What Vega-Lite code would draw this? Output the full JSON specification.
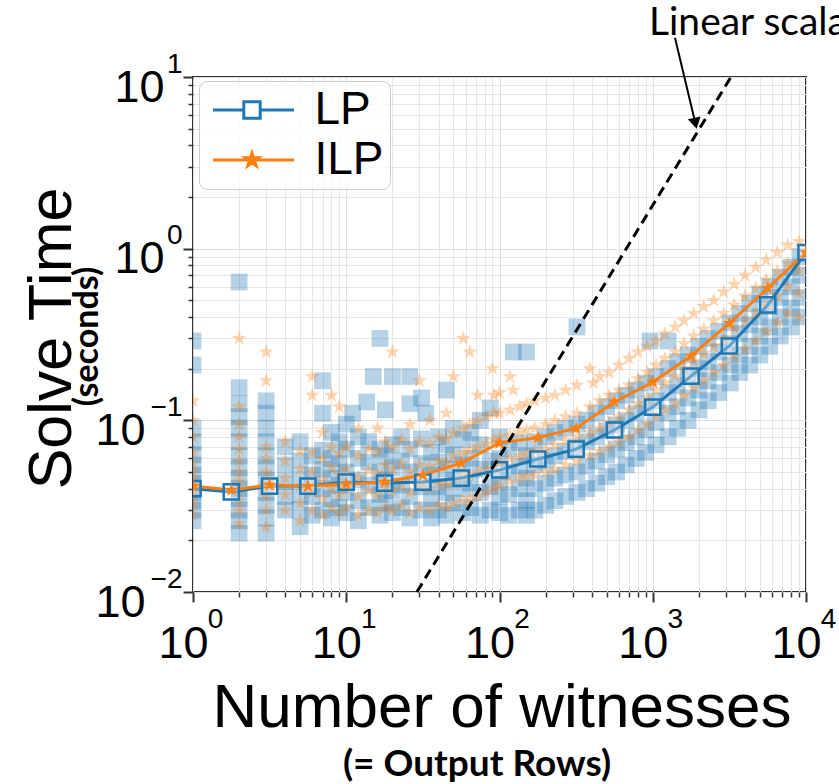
{
  "$schema": "https://vega.github.io/schema/vega-lite/v6.json",
  "width": 613,
  "height": 515,
  "autosize": {"type": "none"},
  "padding": {"left": 193, "top": 77, "right": 33, "bottom": 192},
  "background": "white",
  "config": {
    "view": {"stroke": "#333333", "strokeWidth": 2},
    "axis": {
      "labelFont": "Liberation Sans",
      "titleFont": "Liberation Sans",
      "labelColor": "#000000",
      "titleColor": "#000000",
      "tickColor": "#333333",
      "domain": false,
      "gridColor": "#e6e6e6",
      "gridWidth": 1,
      "labelFlush": false,
      "labelOverlap": false,
      "labelBound": false
    }
  },
  "datasets": {
    "lines": [
      {"s": "LP", "x": 1, "y": 0.040}, {"s": "LP", "x": 1.778, "y": 0.0383}, {"s": "LP", "x": 3.162, "y": 0.0414}, {"s": "LP", "x": 5.623, "y": 0.0414},
      {"s": "LP", "x": 10, "y": 0.0437}, {"s": "LP", "x": 17.78, "y": 0.0431}, {"s": "LP", "x": 31.62, "y": 0.0437}, {"s": "LP", "x": 56.23, "y": 0.0461},
      {"s": "LP", "x": 100, "y": 0.0514}, {"s": "LP", "x": 177.8, "y": 0.0595}, {"s": "LP", "x": 316.2, "y": 0.068}, {"s": "LP", "x": 562.3, "y": 0.0878},
      {"s": "LP", "x": 1000, "y": 0.1195}, {"s": "LP", "x": 1778, "y": 0.181}, {"s": "LP", "x": 3162, "y": 0.271}, {"s": "LP", "x": 5623, "y": 0.47},
      {"s": "LP", "x": 10000, "y": 0.95},
      {"s": "ILP", "x": 1, "y": 0.0414}, {"s": "ILP", "x": 1.778, "y": 0.0393}, {"s": "ILP", "x": 3.162, "y": 0.042}, {"s": "ILP", "x": 5.623, "y": 0.0414},
      {"s": "ILP", "x": 10, "y": 0.0426}, {"s": "ILP", "x": 17.78, "y": 0.0437}, {"s": "ILP", "x": 31.62, "y": 0.048}, {"s": "ILP", "x": 56.23, "y": 0.0564},
      {"s": "ILP", "x": 100, "y": 0.0739}, {"s": "ILP", "x": 177.8, "y": 0.0792}, {"s": "ILP", "x": 316.2, "y": 0.090}, {"s": "ILP", "x": 562.3, "y": 0.128},
      {"s": "ILP", "x": 1000, "y": 0.167}, {"s": "ILP", "x": 1778, "y": 0.237}, {"s": "ILP", "x": 3162, "y": 0.368}, {"s": "ILP", "x": 5623, "y": 0.589},
      {"s": "ILP", "x": 10000, "y": 0.95}
    ],
    "scatter": [
      {"s":"LP","x":1,"y":0.026},{"s":"LP","x":1,"y":0.03},{"s":"LP","x":1,"y":0.034},{"s":"LP","x":1,"y":0.038},{"s":"LP","x":1,"y":0.043},{"s":"LP","x":1,"y":0.048},{"s":"LP","x":1,"y":0.055},{"s":"LP","x":1,"y":0.063},{"s":"LP","x":1,"y":0.075},{"s":"LP","x":1,"y":0.09},{"s":"LP","x":1,"y":0.21},{"s":"LP","x":1,"y":0.29},
      {"s":"LP","x":2,"y":0.022},{"s":"LP","x":2,"y":0.026},{"s":"LP","x":2,"y":0.03},{"s":"LP","x":2,"y":0.035},{"s":"LP","x":2,"y":0.04},{"s":"LP","x":2,"y":0.046},{"s":"LP","x":2,"y":0.053},{"s":"LP","x":2,"y":0.062},{"s":"LP","x":2,"y":0.075},{"s":"LP","x":2,"y":0.09},{"s":"LP","x":2,"y":0.105},{"s":"LP","x":2,"y":0.125},{"s":"LP","x":2,"y":0.155},{"s":"LP","x":2,"y":0.64},
      {"s":"LP","x":3,"y":0.022},{"s":"LP","x":3,"y":0.027},{"s":"LP","x":3,"y":0.032},{"s":"LP","x":3,"y":0.038},{"s":"LP","x":3,"y":0.045},{"s":"LP","x":3,"y":0.053},{"s":"LP","x":3,"y":0.062},{"s":"LP","x":3,"y":0.075},{"s":"LP","x":3,"y":0.09},{"s":"LP","x":3,"y":0.11},{"s":"LP","x":3,"y":0.13},
      {"s":"LP","x":4,"y":0.03},{"s":"LP","x":4,"y":0.036},{"s":"LP","x":4,"y":0.044},{"s":"LP","x":4,"y":0.055},{"s":"LP","x":4,"y":0.07},
      {"s":"LP","x":5,"y":0.024},{"s":"LP","x":5,"y":0.03},{"s":"LP","x":5,"y":0.037},{"s":"LP","x":5,"y":0.046},{"s":"LP","x":5,"y":0.058},{"s":"LP","x":5,"y":0.075},
      {"s":"LP","x":6,"y":0.028},{"s":"LP","x":6,"y":0.036},{"s":"LP","x":6,"y":0.048},{"s":"LP","x":6,"y":0.062},
      {"s":"LP","x":7,"y":0.03},{"s":"LP","x":7,"y":0.04},{"s":"LP","x":7,"y":0.052},{"s":"LP","x":7,"y":0.067},{"s":"LP","x":7,"y":0.11},{"s":"LP","x":7,"y":0.17},
      {"s":"LP","x":8,"y":0.027},{"s":"LP","x":8,"y":0.035},{"s":"LP","x":8,"y":0.046},{"s":"LP","x":8,"y":0.06},{"s":"LP","x":8,"y":0.085},
      {"s":"LP","x":9,"y":0.031},{"s":"LP","x":9,"y":0.042},{"s":"LP","x":9,"y":0.056},{"s":"LP","x":9,"y":0.075},
      {"s":"LP","x":10,"y":0.029},{"s":"LP","x":10,"y":0.038},{"s":"LP","x":10,"y":0.05},{"s":"LP","x":10,"y":0.068},{"s":"LP","x":10,"y":0.095},
      {"s":"LP","x":11,"y":0.11},
      {"s":"LP","x":12,"y":0.026},{"s":"LP","x":12,"y":0.034},{"s":"LP","x":12,"y":0.045},{"s":"LP","x":12,"y":0.06},{"s":"LP","x":12,"y":0.08},
      {"s":"LP","x":13.6,"y":0.128},
      {"s":"LP","x":14,"y":0.031},{"s":"LP","x":14,"y":0.042},{"s":"LP","x":14,"y":0.057},{"s":"LP","x":14,"y":0.075},
      {"s":"LP","x":15,"y":0.18},
      {"s":"LP","x":16.6,"y":0.028},{"s":"LP","x":16.6,"y":0.037},{"s":"LP","x":16.6,"y":0.05},{"s":"LP","x":16.6,"y":0.068},{"s":"LP","x":16.6,"y":0.3},
      {"s":"LP","x":18,"y":0.033},{"s":"LP","x":18,"y":0.045},{"s":"LP","x":18,"y":0.062},{"s":"LP","x":18,"y":0.115},
      {"s":"LP","x":20,"y":0.029},{"s":"LP","x":20,"y":0.039},{"s":"LP","x":20,"y":0.053},{"s":"LP","x":20,"y":0.072},{"s":"LP","x":20,"y":0.18},
      {"s":"LP","x":23,"y":0.031},{"s":"LP","x":23,"y":0.042},{"s":"LP","x":23,"y":0.058},{"s":"LP","x":23,"y":0.08},
      {"s":"LP","x":26,"y":0.027},{"s":"LP","x":26,"y":0.036},{"s":"LP","x":26,"y":0.05},{"s":"LP","x":26,"y":0.068},{"s":"LP","x":26,"y":0.125},{"s":"LP","x":26,"y":0.18},
      {"s":"LP","x":31,"y":0.03},{"s":"LP","x":31,"y":0.041},{"s":"LP","x":31,"y":0.056},{"s":"LP","x":31,"y":0.078},{"s":"LP","x":31,"y":0.135},
      {"s":"LP","x":33,"y":0.11},
      {"s":"LP","x":36,"y":0.027},{"s":"LP","x":36,"y":0.035},{"s":"LP","x":36,"y":0.048},{"s":"LP","x":36,"y":0.065},
      {"s":"LP","x":40,"y":0.03},{"s":"LP","x":40,"y":0.041},{"s":"LP","x":40,"y":0.057},{"s":"LP","x":40,"y":0.08},
      {"s":"LP","x":45,"y":0.028},{"s":"LP","x":45,"y":0.038},{"s":"LP","x":45,"y":0.052},{"s":"LP","x":45,"y":0.072},{"s":"LP","x":45,"y":0.15},
      {"s":"LP","x":50,"y":0.033},{"s":"LP","x":50,"y":0.045},{"s":"LP","x":50,"y":0.063},{"s":"LP","x":50,"y":0.09},
      {"s":"LP","x":58,"y":0.029},{"s":"LP","x":58,"y":0.04},{"s":"LP","x":58,"y":0.055},{"s":"LP","x":58,"y":0.077},
      {"s":"LP","x":65,"y":0.031},{"s":"LP","x":65,"y":0.043},{"s":"LP","x":65,"y":0.06},{"s":"LP","x":65,"y":0.085},
      {"s":"LP","x":75,"y":0.028},{"s":"LP","x":75,"y":0.038},{"s":"LP","x":75,"y":0.052},{"s":"LP","x":75,"y":0.072},{"s":"LP","x":75,"y":0.1},
      {"s":"LP","x":87,"y":0.03},{"s":"LP","x":87,"y":0.041},{"s":"LP","x":87,"y":0.058},{"s":"LP","x":87,"y":0.118},
      {"s":"LP","x":100,"y":0.029},{"s":"LP","x":100,"y":0.036},{"s":"LP","x":100,"y":0.045},{"s":"LP","x":100,"y":0.06},{"s":"LP","x":100,"y":0.08},
      {"s":"LP","x":115,"y":0.028},{"s":"LP","x":115,"y":0.037},{"s":"LP","x":115,"y":0.05},{"s":"LP","x":115,"y":0.068},
      {"s":"LP","x":123,"y":0.25},
      {"s":"LP","x":135,"y":0.03},{"s":"LP","x":135,"y":0.04},{"s":"LP","x":135,"y":0.054},{"s":"LP","x":135,"y":0.074},
      {"s":"LP","x":150,"y":0.028},{"s":"LP","x":150,"y":0.034},{"s":"LP","x":150,"y":0.046},{"s":"LP","x":150,"y":0.062},{"s":"LP","x":150,"y":0.25},
      {"s":"LP","x":170,"y":0.03},{"s":"LP","x":170,"y":0.04},{"s":"LP","x":170,"y":0.055},{"s":"LP","x":170,"y":0.075},
      {"s":"LP","x":200,"y":0.032},{"s":"LP","x":200,"y":0.043},{"s":"LP","x":200,"y":0.058},{"s":"LP","x":200,"y":0.08},
      {"s":"LP","x":230,"y":0.034},{"s":"LP","x":230,"y":0.046},{"s":"LP","x":230,"y":0.062},{"s":"LP","x":230,"y":0.085},
      {"s":"LP","x":270,"y":0.036},{"s":"LP","x":270,"y":0.048},{"s":"LP","x":270,"y":0.066},{"s":"LP","x":270,"y":0.09},
      {"s":"LP","x":320,"y":0.038},{"s":"LP","x":320,"y":0.05},{"s":"LP","x":320,"y":0.07},{"s":"LP","x":320,"y":0.095},{"s":"LP","x":320,"y":0.35},
      {"s":"LP","x":370,"y":0.04},{"s":"LP","x":370,"y":0.054},{"s":"LP","x":370,"y":0.075},{"s":"LP","x":370,"y":0.1},
      {"s":"LP","x":430,"y":0.043},{"s":"LP","x":430,"y":0.058},{"s":"LP","x":430,"y":0.08},{"s":"LP","x":430,"y":0.11},
      {"s":"LP","x":500,"y":0.047},{"s":"LP","x":500,"y":0.063},{"s":"LP","x":500,"y":0.087},{"s":"LP","x":500,"y":0.12},
      {"s":"LP","x":580,"y":0.05},{"s":"LP","x":580,"y":0.068},{"s":"LP","x":580,"y":0.094},{"s":"LP","x":580,"y":0.13},
      {"s":"LP","x":670,"y":0.055},{"s":"LP","x":670,"y":0.074},{"s":"LP","x":670,"y":0.1},{"s":"LP","x":670,"y":0.14},
      {"s":"LP","x":780,"y":0.06},{"s":"LP","x":780,"y":0.08},{"s":"LP","x":780,"y":0.11},{"s":"LP","x":780,"y":0.15},
      {"s":"LP","x":900,"y":0.065},{"s":"LP","x":900,"y":0.088},{"s":"LP","x":900,"y":0.12},{"s":"LP","x":900,"y":0.165},
      {"s":"LP","x":960,"y":0.29},
      {"s":"LP","x":1050,"y":0.072},{"s":"LP","x":1050,"y":0.097},{"s":"LP","x":1050,"y":0.13},{"s":"LP","x":1050,"y":0.18},
      {"s":"LP","x":1260,"y":0.08},{"s":"LP","x":1260,"y":0.11},{"s":"LP","x":1260,"y":0.145},{"s":"LP","x":1260,"y":0.2},{"s":"LP","x":1260,"y":0.29},
      {"s":"LP","x":1450,"y":0.09},{"s":"LP","x":1450,"y":0.12},{"s":"LP","x":1450,"y":0.16},{"s":"LP","x":1450,"y":0.22},
      {"s":"LP","x":1700,"y":0.1},{"s":"LP","x":1700,"y":0.135},{"s":"LP","x":1700,"y":0.18},{"s":"LP","x":1700,"y":0.24},
      {"s":"LP","x":2000,"y":0.115},{"s":"LP","x":2000,"y":0.15},{"s":"LP","x":2000,"y":0.2},{"s":"LP","x":2000,"y":0.27},
      {"s":"LP","x":2300,"y":0.13},{"s":"LP","x":2300,"y":0.17},{"s":"LP","x":2300,"y":0.22},{"s":"LP","x":2300,"y":0.3},
      {"s":"LP","x":2700,"y":0.145},{"s":"LP","x":2700,"y":0.19},{"s":"LP","x":2700,"y":0.25},{"s":"LP","x":2700,"y":0.33},
      {"s":"LP","x":3200,"y":0.165},{"s":"LP","x":3200,"y":0.21},{"s":"LP","x":3200,"y":0.28},{"s":"LP","x":3200,"y":0.37},
      {"s":"LP","x":3700,"y":0.19},{"s":"LP","x":3700,"y":0.24},{"s":"LP","x":3700,"y":0.32},{"s":"LP","x":3700,"y":0.42},
      {"s":"LP","x":4300,"y":0.21},{"s":"LP","x":4300,"y":0.27},{"s":"LP","x":4300,"y":0.36},{"s":"LP","x":4300,"y":0.48},
      {"s":"LP","x":5000,"y":0.24},{"s":"LP","x":5000,"y":0.31},{"s":"LP","x":5000,"y":0.4},{"s":"LP","x":5000,"y":0.54},
      {"s":"LP","x":5800,"y":0.27},{"s":"LP","x":5800,"y":0.35},{"s":"LP","x":5800,"y":0.46},{"s":"LP","x":5800,"y":0.6},
      {"s":"LP","x":6800,"y":0.31},{"s":"LP","x":6800,"y":0.4},{"s":"LP","x":6800,"y":0.52},{"s":"LP","x":6800,"y":0.68},
      {"s":"LP","x":8000,"y":0.35},{"s":"LP","x":8000,"y":0.45},{"s":"LP","x":8000,"y":0.6},{"s":"LP","x":8000,"y":0.78},
      {"s":"LP","x":9200,"y":0.4},{"s":"LP","x":9200,"y":0.52},{"s":"LP","x":9200,"y":0.7},{"s":"LP","x":9200,"y":0.9},

      {"s":"ILP","x":1,"y":0.028},{"s":"ILP","x":1,"y":0.032},{"s":"ILP","x":1,"y":0.036},{"s":"ILP","x":1,"y":0.04},{"s":"ILP","x":1,"y":0.045},{"s":"ILP","x":1,"y":0.05},{"s":"ILP","x":1,"y":0.056},{"s":"ILP","x":1,"y":0.065},{"s":"ILP","x":1,"y":0.08},{"s":"ILP","x":1,"y":0.1},{"s":"ILP","x":1,"y":0.13},
      {"s":"ILP","x":2,"y":0.025},{"s":"ILP","x":2,"y":0.03},{"s":"ILP","x":2,"y":0.034},{"s":"ILP","x":2,"y":0.039},{"s":"ILP","x":2,"y":0.044},{"s":"ILP","x":2,"y":0.05},{"s":"ILP","x":2,"y":0.058},{"s":"ILP","x":2,"y":0.068},{"s":"ILP","x":2,"y":0.08},{"s":"ILP","x":2,"y":0.095},{"s":"ILP","x":2,"y":0.12},{"s":"ILP","x":2,"y":0.3},
      {"s":"ILP","x":3,"y":0.024},{"s":"ILP","x":3,"y":0.03},{"s":"ILP","x":3,"y":0.036},{"s":"ILP","x":3,"y":0.043},{"s":"ILP","x":3,"y":0.05},{"s":"ILP","x":3,"y":0.06},{"s":"ILP","x":3,"y":0.07},{"s":"ILP","x":3,"y":0.17},{"s":"ILP","x":3,"y":0.25},
      {"s":"ILP","x":4,"y":0.03},{"s":"ILP","x":4,"y":0.037},{"s":"ILP","x":4,"y":0.046},{"s":"ILP","x":4,"y":0.058},{"s":"ILP","x":4,"y":0.075},
      {"s":"ILP","x":5,"y":0.026},{"s":"ILP","x":5,"y":0.033},{"s":"ILP","x":5,"y":0.041},{"s":"ILP","x":5,"y":0.052},{"s":"ILP","x":5,"y":0.066},
      {"s":"ILP","x":6,"y":0.03},{"s":"ILP","x":6,"y":0.038},{"s":"ILP","x":6,"y":0.05},{"s":"ILP","x":6,"y":0.065},{"s":"ILP","x":6,"y":0.14},{"s":"ILP","x":6,"y":0.18},
      {"s":"ILP","x":7,"y":0.028},{"s":"ILP","x":7,"y":0.035},{"s":"ILP","x":7,"y":0.045},{"s":"ILP","x":7,"y":0.06},{"s":"ILP","x":7,"y":0.085},
      {"s":"ILP","x":8,"y":0.031},{"s":"ILP","x":8,"y":0.04},{"s":"ILP","x":8,"y":0.053},{"s":"ILP","x":8,"y":0.07},{"s":"ILP","x":8,"y":0.14},
      {"s":"ILP","x":9,"y":0.029},{"s":"ILP","x":9,"y":0.037},{"s":"ILP","x":9,"y":0.048},{"s":"ILP","x":9,"y":0.064},{"s":"ILP","x":9,"y":0.12},
      {"s":"ILP","x":10,"y":0.031},{"s":"ILP","x":10,"y":0.04},{"s":"ILP","x":10,"y":0.052},{"s":"ILP","x":10,"y":0.07},
      {"s":"ILP","x":12,"y":0.028},{"s":"ILP","x":12,"y":0.036},{"s":"ILP","x":12,"y":0.047},{"s":"ILP","x":12,"y":0.062},{"s":"ILP","x":12,"y":0.09},
      {"s":"ILP","x":14,"y":0.03},{"s":"ILP","x":14,"y":0.039},{"s":"ILP","x":14,"y":0.051},{"s":"ILP","x":14,"y":0.068},
      {"s":"ILP","x":16,"y":0.029},{"s":"ILP","x":16,"y":0.037},{"s":"ILP","x":16,"y":0.049},{"s":"ILP","x":16,"y":0.066},{"s":"ILP","x":16,"y":0.09},
      {"s":"ILP","x":18,"y":0.031},{"s":"ILP","x":18,"y":0.041},{"s":"ILP","x":18,"y":0.055},{"s":"ILP","x":18,"y":0.075},
      {"s":"ILP","x":20,"y":0.03},{"s":"ILP","x":20,"y":0.039},{"s":"ILP","x":20,"y":0.052},{"s":"ILP","x":20,"y":0.07},{"s":"ILP","x":20,"y":0.25},
      {"s":"ILP","x":23,"y":0.032},{"s":"ILP","x":23,"y":0.042},{"s":"ILP","x":23,"y":0.056},{"s":"ILP","x":23,"y":0.077},
      {"s":"ILP","x":26,"y":0.029},{"s":"ILP","x":26,"y":0.038},{"s":"ILP","x":26,"y":0.05},{"s":"ILP","x":26,"y":0.068},{"s":"ILP","x":26,"y":0.095},
      {"s":"ILP","x":30,"y":0.031},{"s":"ILP","x":30,"y":0.041},{"s":"ILP","x":30,"y":0.055},{"s":"ILP","x":30,"y":0.075},{"s":"ILP","x":30,"y":0.17},
      {"s":"ILP","x":35,"y":0.03},{"s":"ILP","x":35,"y":0.04},{"s":"ILP","x":35,"y":0.054},{"s":"ILP","x":35,"y":0.073},{"s":"ILP","x":35,"y":0.1},
      {"s":"ILP","x":40,"y":0.032},{"s":"ILP","x":40,"y":0.043},{"s":"ILP","x":40,"y":0.058},{"s":"ILP","x":40,"y":0.08},
      {"s":"ILP","x":45,"y":0.031},{"s":"ILP","x":45,"y":0.042},{"s":"ILP","x":45,"y":0.057},{"s":"ILP","x":45,"y":0.078},{"s":"ILP","x":45,"y":0.11},
      {"s":"ILP","x":50,"y":0.033},{"s":"ILP","x":50,"y":0.045},{"s":"ILP","x":50,"y":0.062},{"s":"ILP","x":50,"y":0.085},{"s":"ILP","x":50,"y":0.18},
      {"s":"ILP","x":58,"y":0.034},{"s":"ILP","x":58,"y":0.047},{"s":"ILP","x":58,"y":0.065},{"s":"ILP","x":58,"y":0.09},{"s":"ILP","x":58,"y":0.3},
      {"s":"ILP","x":64,"y":0.035},{"s":"ILP","x":64,"y":0.048},{"s":"ILP","x":64,"y":0.067},{"s":"ILP","x":64,"y":0.095},{"s":"ILP","x":64,"y":0.25},
      {"s":"ILP","x":72,"y":0.036},{"s":"ILP","x":72,"y":0.05},{"s":"ILP","x":72,"y":0.07},{"s":"ILP","x":72,"y":0.1},{"s":"ILP","x":72,"y":0.14},
      {"s":"ILP","x":82,"y":0.038},{"s":"ILP","x":82,"y":0.052},{"s":"ILP","x":82,"y":0.073},{"s":"ILP","x":82,"y":0.105},
      {"s":"ILP","x":90,"y":0.2},
      {"s":"ILP","x":92,"y":0.04},{"s":"ILP","x":92,"y":0.055},{"s":"ILP","x":92,"y":0.077},{"s":"ILP","x":92,"y":0.11},{"s":"ILP","x":92,"y":0.14},
      {"s":"ILP","x":100,"y":0.042},{"s":"ILP","x":100,"y":0.057},{"s":"ILP","x":100,"y":0.08},{"s":"ILP","x":100,"y":0.11},{"s":"ILP","x":100,"y":0.145},
      {"s":"ILP","x":117,"y":0.044},{"s":"ILP","x":117,"y":0.06},{"s":"ILP","x":117,"y":0.082},{"s":"ILP","x":117,"y":0.115},{"s":"ILP","x":117,"y":0.18},
      {"s":"ILP","x":123,"y":0.15},
      {"s":"ILP","x":135,"y":0.046},{"s":"ILP","x":135,"y":0.062},{"s":"ILP","x":135,"y":0.085},{"s":"ILP","x":135,"y":0.12},
      {"s":"ILP","x":150,"y":0.047},{"s":"ILP","x":150,"y":0.064},{"s":"ILP","x":150,"y":0.088},{"s":"ILP","x":150,"y":0.125},
      {"s":"ILP","x":170,"y":0.048},{"s":"ILP","x":170,"y":0.066},{"s":"ILP","x":170,"y":0.09},{"s":"ILP","x":170,"y":0.13},
      {"s":"ILP","x":200,"y":0.05},{"s":"ILP","x":200,"y":0.068},{"s":"ILP","x":200,"y":0.095},{"s":"ILP","x":200,"y":0.135},
      {"s":"ILP","x":230,"y":0.052},{"s":"ILP","x":230,"y":0.072},{"s":"ILP","x":230,"y":0.1},{"s":"ILP","x":230,"y":0.14},
      {"s":"ILP","x":270,"y":0.055},{"s":"ILP","x":270,"y":0.076},{"s":"ILP","x":270,"y":0.105},{"s":"ILP","x":270,"y":0.15},
      {"s":"ILP","x":320,"y":0.058},{"s":"ILP","x":320,"y":0.08},{"s":"ILP","x":320,"y":0.11},{"s":"ILP","x":320,"y":0.16},
      {"s":"ILP","x":390,"y":0.062},{"s":"ILP","x":390,"y":0.085},{"s":"ILP","x":390,"y":0.12},{"s":"ILP","x":390,"y":0.2},
      {"s":"ILP","x":410,"y":0.165},
      {"s":"ILP","x":450,"y":0.066},{"s":"ILP","x":450,"y":0.09},{"s":"ILP","x":450,"y":0.13},{"s":"ILP","x":450,"y":0.18},
      {"s":"ILP","x":520,"y":0.07},{"s":"ILP","x":520,"y":0.097},{"s":"ILP","x":520,"y":0.14},{"s":"ILP","x":520,"y":0.19},
      {"s":"ILP","x":600,"y":0.075},{"s":"ILP","x":600,"y":0.105},{"s":"ILP","x":600,"y":0.15},{"s":"ILP","x":600,"y":0.21},
      {"s":"ILP","x":700,"y":0.08},{"s":"ILP","x":700,"y":0.115},{"s":"ILP","x":700,"y":0.16},{"s":"ILP","x":700,"y":0.23},
      {"s":"ILP","x":800,"y":0.088},{"s":"ILP","x":800,"y":0.125},{"s":"ILP","x":800,"y":0.175},{"s":"ILP","x":800,"y":0.25},
      {"s":"ILP","x":920,"y":0.095},{"s":"ILP","x":920,"y":0.135},{"s":"ILP","x":920,"y":0.19},{"s":"ILP","x":920,"y":0.27},
      {"s":"ILP","x":1050,"y":0.105},{"s":"ILP","x":1050,"y":0.15},{"s":"ILP","x":1050,"y":0.21},{"s":"ILP","x":1050,"y":0.29},
      {"s":"ILP","x":1200,"y":0.115},{"s":"ILP","x":1200,"y":0.165},{"s":"ILP","x":1200,"y":0.23},{"s":"ILP","x":1200,"y":0.32},
      {"s":"ILP","x":1400,"y":0.125},{"s":"ILP","x":1400,"y":0.18},{"s":"ILP","x":1400,"y":0.25},{"s":"ILP","x":1400,"y":0.35},
      {"s":"ILP","x":1600,"y":0.14},{"s":"ILP","x":1600,"y":0.2},{"s":"ILP","x":1600,"y":0.28},{"s":"ILP","x":1600,"y":0.38},
      {"s":"ILP","x":1850,"y":0.155},{"s":"ILP","x":1850,"y":0.22},{"s":"ILP","x":1850,"y":0.31},{"s":"ILP","x":1850,"y":0.42},
      {"s":"ILP","x":2150,"y":0.17},{"s":"ILP","x":2150,"y":0.245},{"s":"ILP","x":2150,"y":0.34},{"s":"ILP","x":2150,"y":0.46},
      {"s":"ILP","x":2500,"y":0.19},{"s":"ILP","x":2500,"y":0.27},{"s":"ILP","x":2500,"y":0.38},{"s":"ILP","x":2500,"y":0.5},
      {"s":"ILP","x":2900,"y":0.21},{"s":"ILP","x":2900,"y":0.3},{"s":"ILP","x":2900,"y":0.42},{"s":"ILP","x":2900,"y":0.56},
      {"s":"ILP","x":3400,"y":0.235},{"s":"ILP","x":3400,"y":0.34},{"s":"ILP","x":3400,"y":0.47},{"s":"ILP","x":3400,"y":0.62},
      {"s":"ILP","x":4000,"y":0.26},{"s":"ILP","x":4000,"y":0.38},{"s":"ILP","x":4000,"y":0.53},{"s":"ILP","x":4000,"y":0.7},
      {"s":"ILP","x":4700,"y":0.29},{"s":"ILP","x":4700,"y":0.42},{"s":"ILP","x":4700,"y":0.59},{"s":"ILP","x":4700,"y":0.78},
      {"s":"ILP","x":5500,"y":0.33},{"s":"ILP","x":5500,"y":0.47},{"s":"ILP","x":5500,"y":0.66},{"s":"ILP","x":5500,"y":0.86},
      {"s":"ILP","x":6500,"y":0.37},{"s":"ILP","x":6500,"y":0.53},{"s":"ILP","x":6500,"y":0.74},{"s":"ILP","x":6500,"y":0.95},
      {"s":"ILP","x":7600,"y":0.42},{"s":"ILP","x":7600,"y":0.6},{"s":"ILP","x":7600,"y":0.82},{"s":"ILP","x":7600,"y":1.05},
      {"s":"ILP","x":9000,"y":0.4},{"s":"ILP","x":9000,"y":0.55},{"s":"ILP","x":9000,"y":0.75},{"s":"ILP","x":9000,"y":1.1}
    ],
    "dash": [{"x": 28.9, "y": 0.01}, {"x": 3240, "y": 10}],
    "arrow": [{"x": 1397, "y": 16.9, "x2": 1898, "y2": 5.37}],
    "note": [{"x": 945, "y": 17.5, "t": "Linear scalability"}]
  },
  "resolve": {"axis": {"x": "independent", "y": "independent"}},
  "layer": [
    {
      "data": {"name": "scatter"},
      "transform": [{"filter": "datum.s == 'LP'"}],
      "mark": {"type": "point", "shape": "square", "filled": true, "size": 280, "color": "#1f77b4", "opacity": 0.33, "strokeWidth": 0, "clip": true},
      "encoding": {
        "x": {"field": "x", "type": "quantitative", "scale": {"type": "log", "domain": [1, 10000], "nice": false},
          "axis": {"orient": "bottom", "values": [1, 10, 100, 1000, 10000], "labels": false, "ticks": true, "tickSize": 10, "tickWidth": 2, "grid": true, "gridColor": "#dedede",
            "title": "Number of witnesses", "titleFontSize": 62, "titleFontWeight": "normal", "titleX": 308.5, "titleY": 134, "titleAlign": "center", "titleBaseline": "alphabetic", "titleAngle": 0}},
        "y": {"field": "y", "type": "quantitative", "scale": {"type": "log", "domain": [0.01, 10], "nice": false},
          "axis": {"orient": "left", "values": [0.01, 0.1, 1, 10], "labels": false, "ticks": true, "tickSize": 10, "tickWidth": 2, "grid": true, "gridColor": "#dedede",
            "title": "Solve Time", "titleFontSize": 61, "titleFontWeight": "normal", "titleX": -123, "titleY": 261, "titleAngle": 270, "titleAlign": "center", "titleBaseline": "alphabetic"}}
      }
    },
    {
      "data": {"name": "scatter"},
      "transform": [{"filter": "datum.s == 'ILP'"}],
      "mark": {"type": "point", "shape": "M0,-1L0.225,-0.309L0.951,-0.309L0.363,0.118L0.588,0.809L0,0.382L-0.588,0.809L-0.363,0.118L-0.951,-0.309L-0.225,-0.309Z", "filled": true, "size": 250, "color": "#ff7f0e", "opacity": 0.33, "strokeWidth": 0, "clip": true},
      "encoding": {
        "x": {"field": "x", "type": "quantitative", "scale": {"type": "log", "domain": [1, 10000], "nice": false},
          "axis": {"orient": "bottom", "values": [2,3,4,5,6,7,8,9,20,30,40,50,60,70,80,90,200,300,400,500,600,700,800,900,2000,3000,4000,5000,6000,7000,8000,9000], "labels": false, "ticks": true, "tickSize": 5, "tickWidth": 1.5, "grid": true, "title": null}},
        "y": {"field": "y", "type": "quantitative", "scale": {"type": "log", "domain": [0.01, 10], "nice": false},
          "axis": {"orient": "left", "values": [0.02,0.03,0.04,0.05,0.06,0.07,0.08,0.09,0.2,0.3,0.4,0.5,0.6,0.7,0.8,0.9,2,3,4,5,6,7,8,9], "labels": false, "ticks": true, "tickSize": 5, "tickWidth": 1.5, "grid": true, "title": null}}
      }
    },
    {
      "data": {"name": "lines"},
      "transform": [{"filter": "datum.s == 'LP'"}],
      "mark": {"type": "line", "color": "#1f77b4", "strokeWidth": 3, "clip": true},
      "encoding": {
        "x": {"field": "x", "type": "quantitative", "scale": {"type": "log", "domain": [1, 10000], "nice": false},
          "axis": {"orient": "bottom", "values": [1, 10, 100, 1000, 10000], "labelExpr": "'10'", "labelFontSize": 45, "labelAlign": "center", "labelBaseline": "alphabetic", "labelPadding": 65, "labelOffset": -10,
            "ticks": false, "tickSize": 0, "grid": false,
            "title": "(= Output Rows)", "titleFont": "Lato", "titleFontWeight": "bold", "titleFontSize": 37, "titleX": 283.5, "titleY": 183, "titleAlign": "center", "titleBaseline": "alphabetic", "titleAngle": 0}},
        "y": {"field": "y", "type": "quantitative", "scale": {"type": "log", "domain": [0.01, 10], "nice": false},
          "axis": {"orient": "left", "values": [1, 10], "labelExpr": "'10'", "labelFontSize": 45, "labelAlign": "right", "labelBaseline": "alphabetic", "labelOffset": 24, "labelPadding": 29,
            "ticks": false, "tickSize": 0, "grid": false,
            "title": "(seconds)", "titleFont": "Lato", "titleFontWeight": "bold", "titleFontSize": 34, "titleX": -96, "titleY": 259, "titleAngle": 270, "titleAlign": "center", "titleBaseline": "alphabetic"}}
      }
    },
    {
      "data": {"name": "lines"},
      "transform": [{"filter": "datum.s == 'ILP'"}],
      "mark": {"type": "line", "color": "#ff7f0e", "strokeWidth": 3, "clip": true},
      "encoding": {
        "x": {"field": "x", "type": "quantitative", "scale": {"type": "log", "domain": [1, 10000], "nice": false},
          "axis": {"orient": "bottom", "values": [1, 10, 100, 1000, 10000], "labelExpr": "format(log(datum.value)/LN10, '.0f')", "labelFontSize": 28, "labelAlign": "center", "labelBaseline": "alphabetic", "labelPadding": 35, "labelOffset": 22,
            "ticks": false, "tickSize": 0, "grid": false, "title": null}},
        "y": {"field": "y", "type": "quantitative", "scale": {"type": "log", "domain": [0.01, 10], "nice": false},
          "axis": {"orient": "left", "values": [0.01, 0.1], "labelExpr": "'10'", "labelFontSize": 45, "labelAlign": "right", "labelBaseline": "alphabetic", "labelOffset": 24, "labelPadding": 48,
            "ticks": false, "tickSize": 0, "grid": false, "title": null}}
      }
    },
    {
      "data": {"name": "lines"},
      "transform": [{"filter": "datum.s == 'LP'"}],
      "mark": {"type": "point", "shape": "square", "size": 230, "filled": true, "fill": "#ffffff", "fillOpacity": 0.3, "stroke": "#1f77b4", "strokeWidth": 2.5, "opacity": 1, "clip": true},
      "encoding": {
        "x": {"field": "x", "type": "quantitative", "scale": {"type": "log", "domain": [1, 10000], "nice": false}, "axis": null},
        "y": {"field": "y", "type": "quantitative", "scale": {"type": "log", "domain": [0.01, 10], "nice": false},
          "axis": {"orient": "left", "values": [0.01, 0.1, 1, 10], "labelExpr": "format(log(datum.value)/LN10, '.0f')", "labelFontSize": 28, "labelAlign": "right", "labelBaseline": "alphabetic", "labelOffset": -5, "labelPadding": 11,
            "ticks": false, "tickSize": 0, "grid": false, "title": null}}
      }
    },
    {
      "data": {"name": "lines"},
      "transform": [{"filter": "datum.s == 'ILP'"}],
      "mark": {"type": "point", "shape": "M0,-1L0.225,-0.309L0.951,-0.309L0.363,0.118L0.588,0.809L0,0.382L-0.588,0.809L-0.363,0.118L-0.951,-0.309L-0.225,-0.309Z", "size": 210, "filled": true, "color": "#ff7f0e", "opacity": 1, "strokeWidth": 0, "clip": true},
      "encoding": {
        "x": {"field": "x", "type": "quantitative", "scale": {"type": "log", "domain": [1, 10000], "nice": false}, "axis": null},
        "y": {"field": "y", "type": "quantitative", "scale": {"type": "log", "domain": [0.01, 10], "nice": false}, "axis": null}
      }
    },
    {
      "data": {"name": "lines"},
      "mark": {"type": "point", "filled": false, "opacity": 0},
      "encoding": {
        "x": {"field": "x", "type": "quantitative", "scale": {"type": "log", "domain": [1, 10000], "nice": false}, "axis": null},
        "y": {"field": "y", "type": "quantitative", "scale": {"type": "log", "domain": [0.01, 10], "nice": false}, "axis": null},
        "color": {"field": "s", "type": "nominal", "scale": {"domain": ["LP", "ILP"], "range": ["#1f77b4", "#ff7f0e"]},
          "legend": {"orient": "none", "legendX": 6, "legendY": 4, "title": null, "labelFont": "Liberation Sans", "labelFontSize": 46, "labelColor": "#000000", "symbolSize": 900, "symbolStrokeWidth": 3, "symbolOpacity": 1, "labelOffset": 63.5, "rowPadding": 4, "padding": 6, "fillColor": "rgba(255,255,255,0.8)", "strokeColor": "#cccccc", "cornerRadius": 8, "labelExpr": "datum.label + ' '", "direction": "vertical"}},
        "shape": {"field": "s", "type": "nominal", "scale": {"domain": ["LP", "ILP"], "range": [
            "M-1,0H1.053M2.147,0H4.4M1.053,-0.547H2.147V0.547H1.053Z",
            "M-1,0H4.4M1.6,-0.467L1.705,-0.144L2.044,-0.144L1.77,0.055L1.875,0.378L1.6,0.178L1.325,0.378L1.43,0.055L1.156,-0.144L1.495,-0.144Z"]},
          "legend": {"orient": "none", "legendX": 6, "legendY": 4, "title": null, "labelFont": "Liberation Sans", "labelFontSize": 46, "labelColor": "#000000", "symbolSize": 900, "symbolStrokeWidth": 3, "symbolOpacity": 1, "labelOffset": 63.5, "rowPadding": 4, "padding": 6, "fillColor": "rgba(255,255,255,0.8)", "strokeColor": "#cccccc", "cornerRadius": 8, "labelExpr": "datum.label + ' '", "direction": "vertical"}}
      }
    },
    {
      "data": {"name": "dash"},
      "mark": {"type": "line", "color": "#000000", "strokeWidth": 3, "strokeDash": [10, 6]},
      "encoding": {
        "x": {"field": "x", "type": "quantitative", "scale": {"type": "log", "domain": [1, 10000], "nice": false}, "axis": null},
        "y": {"field": "y", "type": "quantitative", "scale": {"type": "log", "domain": [0.01, 10], "nice": false}, "axis": null}
      }
    },
    {
      "data": {"name": "arrow"},
      "mark": {"type": "rule", "color": "#000000", "strokeWidth": 2},
      "encoding": {
        "x": {"field": "x", "type": "quantitative", "scale": {"type": "log", "domain": [1, 10000], "nice": false}, "axis": null},
        "y": {"field": "y", "type": "quantitative", "scale": {"type": "log", "domain": [0.01, 10], "nice": false}, "axis": null},
        "x2": {"field": "x2"},
        "y2": {"field": "y2"}
      }
    },
    {
      "data": {"name": "arrow"},
      "mark": {"type": "point", "shape": "triangle-down", "filled": true, "size": 170, "color": "#000000", "opacity": 1, "angle": 347},
      "encoding": {
        "x": {"field": "x2", "type": "quantitative", "scale": {"type": "log", "domain": [1, 10000], "nice": false}, "axis": null},
        "y": {"field": "y2", "type": "quantitative", "scale": {"type": "log", "domain": [0.01, 10], "nice": false}, "axis": null}
      }
    },
    {
      "data": {"name": "note"},
      "mark": {"type": "text", "font": "Lato", "fontSize": 39, "align": "left", "baseline": "alphabetic", "color": "#000000"},
      "encoding": {
        "x": {"field": "x", "type": "quantitative", "scale": {"type": "log", "domain": [1, 10000], "nice": false}, "axis": null},
        "y": {"field": "y", "type": "quantitative", "scale": {"type": "log", "domain": [0.01, 10], "nice": false}, "axis": null},
        "text": {"field": "t"}
      }
    }
  ]
}
